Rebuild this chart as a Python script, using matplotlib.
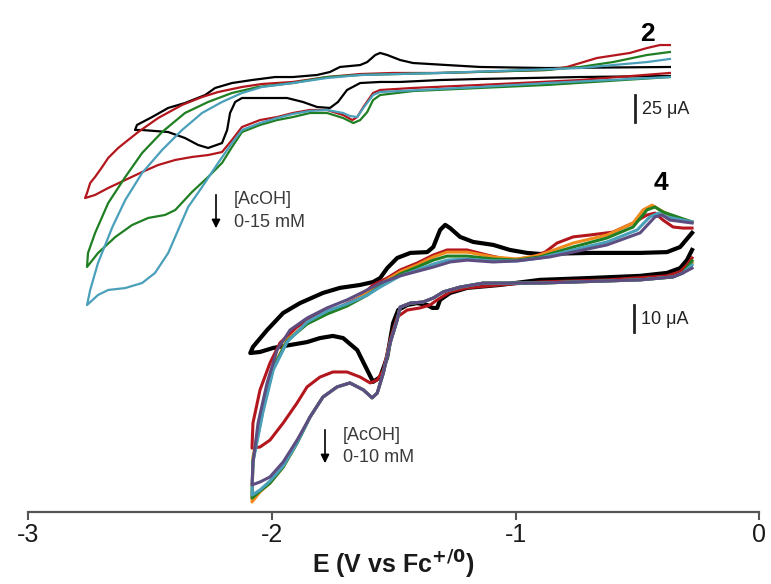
import matplotlib
matplotlib.use("Agg")
import matplotlib.pyplot as plt
from matplotlib.patches import FancyArrowPatch

# ---- compound 2 (top traces), E in V vs Fc, I in uA ----
E2_black = [-0.367, -0.736, -1.146, -1.310, -1.474, -1.556, -1.638, -1.692, -1.729, -1.762,
            -1.815, -1.873, -1.938, -1.987, -2.123, -2.151, -2.172, -2.184, -2.205, -2.262,
            -2.303, -2.357, -2.426, -2.533, -2.562,
            -2.554, -2.492, -2.426, -2.357, -2.274, -2.233, -2.164, -2.082, -1.987, -1.914,
            -1.815, -1.762, -1.721, -1.638, -1.609, -1.576, -1.556, -1.527, -1.474, -1.421,
            -1.281, -1.146, -0.871, -0.367]
I2_black = [-0.9, -1.9, -3.7, -4.7, -6.5, -6.5, -7.5, -14.0, -25.2, -30.8,
            -29.9, -25.2, -21.5, -21.5, -21.5, -25.2, -35.5, -51.4, -63.6, -68.2,
            -65.4, -58.9, -53.3, -51.4, -51.4,
            -46.7, -39.3, -30.8, -26.2, -18.7, -12.1, -7.5, -4.7, -1.9, -1.9,
            0.0, 2.8, 7.5, 9.3, 12.1, 18.7, 20.6, 18.7, 14.0, 11.2,
            9.3, 7.5, 6.5, 7.5]

E2_red = [-0.367, -0.736, -1.146, -1.421, -1.556, -1.585, -1.625, -1.650, -1.670, -1.708,
          -1.774, -1.844, -1.914, -1.979, -2.049, -2.123, -2.164, -2.205, -2.262, -2.328,
          -2.397, -2.467, -2.533, -2.602, -2.672, -2.726, -2.767,
          -2.759, -2.746, -2.726, -2.697, -2.672, -2.631, -2.590, -2.549, -2.467, -2.369,
          -2.287, -2.221, -2.123, -2.041, -1.914, -1.774, -1.638, -1.503, -1.310, -0.871,
          -0.789, -0.666, -0.531, -0.461, -0.408, -0.367]
I2_red = [1.9, -4.7, -9.3, -12.1, -14.0, -16.8, -29.9, -39.3, -42.1, -37.4,
          -32.7, -32.7, -35.5, -39.3, -42.1, -48.6, -60.7, -72.0, -74.8, -76.6,
          -79.4, -84.1, -90.7, -98.1, -105.6, -112.1, -115.0,
          -110.3, -100.9, -95.3, -86.0, -77.5, -68.2, -60.7, -53.3, -40.2, -28.0,
          -20.6, -15.9, -11.2, -8.4, -6.5, -1.9, 0.9, 1.9, 1.9, 4.7,
          7.5, 15.9, 20.6, 25.2, 28.0, 28.0]

E2_green = [-0.367, -0.871, -1.146, -1.421, -1.556, -1.585, -1.609, -1.638, -1.666, -1.708,
            -1.774, -1.844, -1.914, -1.979, -2.049, -2.123, -2.164, -2.205, -2.262, -2.328,
            -2.397, -2.439, -2.508, -2.574, -2.643, -2.714, -2.759,
            -2.755, -2.726, -2.672, -2.602, -2.533, -2.451, -2.357, -2.262, -2.164, -2.057,
            -1.914, -1.774, -1.638, -1.310, -0.871, -0.736, -0.600, -0.461, -0.367]
I2_green = [-1.9, -9.3, -12.1, -15.0, -18.7, -23.4, -34.6, -42.1, -44.9, -40.2,
            -35.5, -35.5, -39.3, -42.1, -46.7, -53.3, -67.3, -82.2, -95.3, -109.3,
            -126.2, -130.8, -133.6, -140.2, -151.4, -166.4, -179.4,
            -166.4, -147.7, -119.6, -95.3, -72.9, -53.3, -35.5, -25.2, -16.8, -11.2,
            -7.5, -1.9, 0.0, 1.9, 4.7, 7.5, 12.1, 18.7, 21.5]

E2_teal = [-0.367, -0.871, -1.146, -1.556, -1.585, -1.625, -1.650, -1.680, -1.708, -1.774,
           -1.844, -1.914, -1.979, -2.049, -2.123, -2.164, -2.221, -2.287, -2.344, -2.385,
           -2.426, -2.480, -2.533, -2.602, -2.672, -2.714, -2.759,
           -2.746, -2.714, -2.655, -2.602, -2.533, -2.451, -2.369, -2.287, -2.205, -2.123,
           -2.041, -1.914, -1.774, -1.638, -1.310, -0.736, -0.600, -0.461, -0.367]
I2_teal = [-1.9, -7.5, -11.2, -15.9, -18.7, -30.8, -39.3, -38.3, -35.5, -32.7,
           -33.6, -36.4, -40.2, -44.9, -51.4, -63.6, -82.2, -104.7, -123.4, -144.9,
           -166.4, -185.0, -194.4, -199.1, -200.9, -205.6, -215.0,
           -200.9, -175.7, -142.1, -116.8, -91.6, -70.1, -51.4, -35.5, -25.2, -16.8,
           -11.2, -7.5, -2.8, 0.0, 1.9, 6.5, 9.3, 12.1, 15.0]

# ---- compound 4 (bottom traces) ----
E4_black = [-0.276, -0.297, -0.325, -0.379, -0.489, -0.695, -0.900, -1.064, -1.199, -1.269,
            -1.310, -1.322, -1.342, -1.363, -1.404, -1.445, -1.482, -1.503, -1.527, -1.556,
            -1.585, -1.609, -1.650, -1.708, -1.750, -1.803, -1.856, -1.926, -1.995, -2.049,
            -2.089,
            -2.078, -2.020, -1.954, -1.885, -1.791, -1.721, -1.638, -1.585, -1.556, -1.527,
            -1.486, -1.432, -1.363, -1.338, -1.310, -1.289, -1.269, -1.228, -1.174, -1.092,
            -1.023, -0.953, -0.900, -0.695, -0.489, -0.379, -0.325, -0.276]
I4_black = [7.5, 3.7, 0.7, -1.1, -2.2, -3.0, -3.7, -5.6, -6.7, -8.6,
            -11.2, -14.2, -14.2, -13.1, -12.4, -13.1, -15.0, -19.9, -32.6, -40.1,
            -41.9, -37.5, -30.0, -25.5, -24.7, -25.5, -27.0, -28.1, -29.2, -30.7,
            -31.1,
            -28.8, -22.5, -16.1, -12.4, -8.6, -6.7, -5.6, -4.5, -3.0, 0.7,
            4.5, 6.4, 6.7, 8.6, 15.0, 16.9, 15.7, 12.4, 10.5, 9.4,
            7.5, 6.4, 6.0, 6.4, 6.4, 6.7, 8.6, 13.9]

E4_red = [-0.276, -0.297, -0.325, -0.379, -0.625, -0.900, -1.064, -1.199, -1.269, -1.322,
          -1.351, -1.392, -1.445, -1.486, -1.515, -1.543, -1.568, -1.597, -1.638, -1.692,
          -1.750, -1.803, -1.856, -1.897, -1.954, -2.008, -2.049, -2.082,
          -2.078, -2.049, -2.008, -1.967, -1.897, -1.803, -1.721, -1.638, -1.585, -1.527,
          -1.474, -1.404, -1.338, -1.281, -1.199, -1.117, -1.023, -0.929, -0.879, -0.830,
          -0.764, -0.695, -0.600, -0.518, -0.461, -0.428, -0.395, -0.354, -0.313, -0.276]
I4_red = [4.5, 1.9, -0.7, -2.2, -3.7, -4.5, -5.6, -6.7, -8.2, -11.2,
          -13.1, -14.2, -15.0, -17.6, -26.2, -37.5, -41.2, -42.3, -40.1, -38.2,
          -38.2, -40.1, -43.8, -49.8, -57.3, -63.7, -66.3, -66.7,
          -57.3, -44.9, -34.8, -27.3, -21.3, -16.1, -13.9, -10.1, -5.6, -3.0,
          0.0, 2.6, 5.6, 7.5, 7.5, 5.6, 3.7, 4.9, 6.7, 10.1,
          12.4, 13.1, 14.2, 17.6, 20.6, 21.3, 18.7, 16.1, 15.7, 15.7]

E4_orange = [-0.276, -0.313, -0.354, -0.489, -0.900, -1.133, -1.228, -1.297, -1.338, -1.380,
             -1.432, -1.474, -1.486, -1.515, -1.543, -1.568, -1.589, -1.625, -1.680, -1.733,
             -1.791, -1.844, -1.897, -1.954, -2.008, -2.049, -2.082,
             -2.078, -2.037, -1.995, -1.938, -1.856, -1.774, -1.692, -1.609, -1.556, -1.474,
             -1.404, -1.338, -1.281, -1.199, -1.092, -0.994, -0.900, -0.764, -0.625, -0.518,
             -0.477, -0.440, -0.408, -0.354, -0.276]
I4_orange = [2.6, -1.1, -2.6, -3.7, -4.9, -4.9, -6.4, -8.2, -10.5, -12.0,
             -12.4, -13.9, -18.7, -27.3, -38.6, -46.1, -47.9, -44.9, -42.3, -43.8,
             -47.6, -55.1, -64.8, -73.8, -79.8, -83.1, -86.9,
             -70.0, -51.3, -36.3, -26.2, -19.9, -16.1, -13.1, -8.6, -5.2, -0.7,
             1.9, 4.9, 6.7, 6.7, 4.9, 4.1, 5.6, 10.1, 13.1, 17.6,
             22.5, 24.3, 22.5, 19.9, 18.0]

E4_green = [-0.276, -0.313, -0.354, -0.489, -0.900, -1.133, -1.228, -1.297, -1.338, -1.380,
            -1.432, -1.474, -1.486, -1.515, -1.543, -1.568, -1.589, -1.625, -1.680, -1.733,
            -1.791, -1.844, -1.897, -1.954, -2.008, -2.049, -2.082,
            -2.078, -2.037, -1.995, -1.938, -1.856, -1.774, -1.692, -1.609, -1.556, -1.474,
            -1.404, -1.338, -1.281, -1.199, -1.092, -0.994, -0.900, -0.764, -0.625, -0.518,
            -0.461, -0.428, -0.395, -0.276]
I4_green = [3.4, -1.1, -2.6, -3.7, -4.9, -4.9, -6.4, -8.2, -10.5, -12.0,
            -12.4, -13.9, -18.7, -27.3, -38.6, -46.1, -47.9, -44.9, -42.3, -43.8,
            -47.6, -55.1, -64.8, -73.8, -79.8, -82.8, -85.4,
            -71.2, -52.4, -36.7, -26.6, -20.2, -16.5, -13.5, -9.4, -6.0, -1.5,
            1.1, 3.7, 5.2, 5.2, 4.1, 3.7, 4.9, 8.6, 12.0, 16.1,
            22.5, 23.6, 21.7, 18.0]

E4_teal = [-0.276, -0.313, -0.354, -0.489, -0.900, -1.133, -1.228, -1.297, -1.338, -1.380,
           -1.432, -1.474, -1.486, -1.515, -1.543, -1.568, -1.589, -1.625, -1.680, -1.733,
           -1.791, -1.844, -1.897, -1.954, -2.008, -2.049, -2.082,
           -2.078, -2.037, -1.995, -1.938, -1.856, -1.774, -1.692, -1.609, -1.556, -1.474,
           -1.404, -1.338, -1.281, -1.199, -1.092, -0.994, -0.900, -0.764, -0.625, -0.501,
           -0.449, -0.415, -0.379, -0.276]
I4_teal = [1.9, -1.1, -2.6, -3.7, -4.9, -4.9, -6.4, -8.2, -10.5, -12.0,
           -12.4, -13.9, -18.7, -27.3, -38.6, -46.1, -47.9, -44.9, -42.3, -43.8,
           -47.6, -55.1, -64.8, -73.4, -79.0, -82.4, -84.3,
           -71.9, -53.2, -37.5, -27.0, -19.5, -15.4, -12.7, -9.4, -6.4, -2.2,
           0.0, 2.2, 3.7, 4.1, 3.4, 3.4, 4.5, 7.5, 10.5, 15.0,
           19.9, 21.3, 19.9, 18.0]

E4_purple = [-0.276, -0.313, -0.354, -0.489, -0.900, -1.133, -1.228, -1.297, -1.338, -1.380,
             -1.432, -1.474, -1.486, -1.515, -1.543, -1.568, -1.589, -1.625, -1.680, -1.733,
             -1.791, -1.844, -1.897, -1.954, -2.008, -2.049, -2.082,
             -2.078, -2.057, -2.020, -1.979, -1.926, -1.856, -1.774, -1.692, -1.625, -1.556,
             -1.474, -1.338, -1.269, -1.199, -1.092, -0.994, -0.859, -0.764, -0.625, -0.489,
             -0.428, -0.399, -0.367, -0.276]
I4_purple = [0.7, -1.1, -2.6, -3.7, -4.9, -4.9, -6.4, -8.2, -10.5, -12.0,
             -12.4, -13.9, -18.7, -27.3, -38.6, -46.1, -47.9, -44.9, -42.3, -43.8,
             -47.6, -55.1, -63.7, -71.9, -77.5, -79.4, -80.5,
             -72.3, -57.3, -42.3, -30.0, -22.5, -18.0, -14.2, -11.2, -8.2, -4.9,
             -2.2, 1.1, 3.0, 3.7, 3.0, 3.4, 4.9, 6.7, 9.4, 13.9,
             19.9, 20.6, 18.7, 17.6]

x_ticks = [-3, -2, -1, 0]
x_ticklabels = ["-3", "-2", "-1", "0"]

RED = "#b3161c"
GREEN = "#1f7f22"
TEAL = "#4a9fba"
ORANGE = "#f08a1c"
PURPLE = "#5d4d80"

plt.rcParams["font.family"] = ["Liberation Sans", "DejaVu Sans"]

W, H = 771, 584
fig = plt.figure(figsize=(W / 100, H / 100), dpi=100)

def fx(px):
    return px / W

def fy(py):
    return 1 - py / H

ax = fig.add_axes([fx(28.3), fy(512), (759.3 - 28.3) / W, 512 / H])
ax_top = ax.twinx()

# bottom traces (compound 4), 10 uA ~ 26.7 px
ax.plot(E4_black, I4_black, color="black", lw=3.0, solid_joinstyle="round")
ax.plot(E4_red, I4_red, color=RED, lw=2.2)
ax.plot(E4_orange, I4_orange, color=ORANGE, lw=2.2)
ax.plot(E4_green, I4_green, color=GREEN, lw=2.2)
ax.plot(E4_teal, I4_teal, color=TEAL, lw=2.2)
ax.plot(E4_purple, I4_purple, color=PURPLE, lw=2.2)

# top traces (compound 2), 25 uA ~ 26.7 px
ax_top.plot(E2_black, I2_black, color="black", lw=1.6)
ax_top.plot(E2_red, I2_red, color=RED, lw=1.6)
ax_top.plot(E2_green, I2_green, color=GREEN, lw=1.6)
ax_top.plot(E2_teal, I2_teal, color=TEAL, lw=1.6)

ax.set_xlim(-3, 0)
ax.set_ylim(-90.64, 101.12)
ax_top.set_ylim(-408.4, 70.09)

for a in (ax, ax_top):
    for s in ("top", "left", "right"):
        a.spines[s].set_visible(False)
ax_top.spines["bottom"].set_visible(False)
ax_top.set_yticks([])
ax.set_yticks([])
ax.spines["bottom"].set_color("#555555")
ax.spines["bottom"].set_linewidth(1.6)
ax.set_xticks(x_ticks)
ax.set_xticklabels(x_ticklabels)
ax.tick_params(axis="x", direction="out", length=6, width=1.5, color="#555555",
               labelsize=18, labelcolor="#1a1a1a", pad=2)
ax.set_xlabel("E (V vs Fc$^{\\mathbf{+/0}}$)", fontsize=18, fontweight="bold",
              color="#1a1a1a", labelpad=1)

# scale bars
ax_top.plot([-0.510, -0.510], [-18.7, -43.7], color="#222222", lw=2)
ax.plot([-0.514, -0.514], [-13.1, -23.1], color="#222222", lw=2)
fig.text(fx(642), fy(109), "25 \u03bcA", fontsize=13, color="#222222", va="center", ha="left")
fig.text(fx(641), fy(319), "10 \u03bcA", fontsize=13, color="#222222", va="center", ha="left")

# compound labels
fig.text(fx(647), fy(34), "2", fontsize=19, fontweight="bold", ha="center", va="center")
fig.text(fx(661), fy(183), "4", fontsize=19, fontweight="bold", ha="center", va="center")

# acid arrows
for (px, y0, y1) in [(216, 192, 231), (325, 427, 466)]:
    fig.add_artist(FancyArrowPatch((fx(px), fy(y0)), (fx(px), fy(y1)),
                                   transform=fig.transFigure,
                                   arrowstyle="-|>,head_length=5,head_width=2.5",
                                   color="black", lw=1.2))
for (px, py, s) in [(234, 200, "[AcOH]"), (234, 222, "0-15 mM"),
                    (343, 436, "[AcOH]"), (343, 458, "0-10 mM")]:
    fig.text(fx(px), fy(py), s, fontsize=13, color="#3a3a3a", va="center", ha="left")

fig.savefig("out.png", dpi=100)
